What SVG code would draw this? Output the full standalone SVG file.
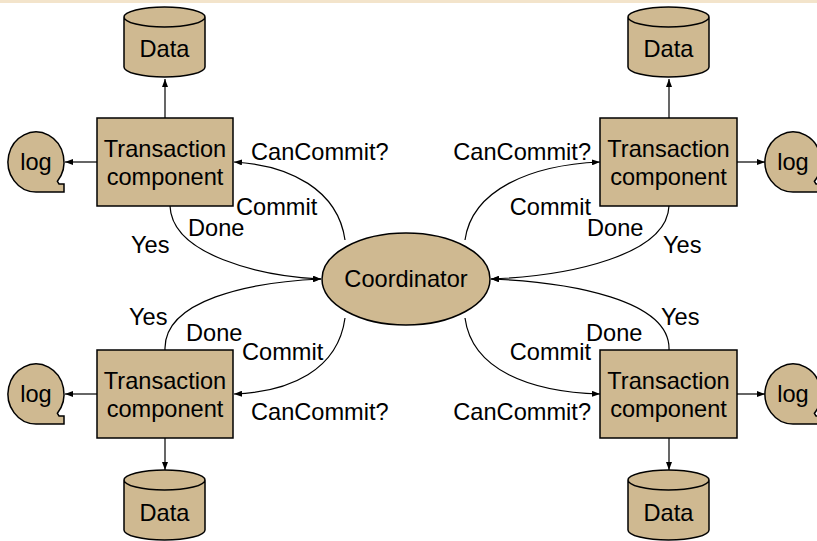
<svg xmlns="http://www.w3.org/2000/svg" xmlns:xlink="http://www.w3.org/1999/xlink" width="817" height="541" viewBox="0 0 817 541">
<style>
.shape{fill:#cfb991;stroke:#000;stroke-width:1.5}
.lbl{font-family:"Liberation Sans",Arial,sans-serif;font-size:23.6px;fill:#000}
.mid{text-anchor:middle}
.end{text-anchor:end}
.con{fill:none;stroke:#000;stroke-width:1.2}
</style>
<defs>
<marker id="ah" markerUnits="userSpaceOnUse" markerWidth="8" markerHeight="6" refX="8" refY="3" orient="auto">
<path d="M0,0 L8,3 L0,6 z" fill="#000"/>
</marker>
<path id="logShape" d="M57.4 181.3 A28 30 0 1 0 36 192 L64 192 L64 184 L59 184 Z"/>
<path id="cyl" d="M124 17 L124 67 A40.5 10 0 0 0 205 67 L205 17 A40.5 10 0 0 0 124 17 Z M124 17 A40.5 10 0 0 0 205 17"/>
</defs>
<rect x="0" y="0" width="817" height="3" fill="#f3e4cb"/>

<g id="connectors">
<line class="con" x1="165" y1="118" x2="165" y2="79" marker-end="url(#ah)"/>
<line class="con" x1="97" y1="162" x2="65" y2="162" marker-end="url(#ah)"/>
<line class="con" x1="669" y1="118" x2="669" y2="79" marker-end="url(#ah)"/>
<line class="con" x1="737" y1="162" x2="765" y2="162" marker-end="url(#ah)"/>
<line class="con" x1="165" y1="438" x2="165" y2="470" marker-end="url(#ah)"/>
<line class="con" x1="97" y1="394" x2="65" y2="394" marker-end="url(#ah)"/>
<line class="con" x1="669" y1="438" x2="669" y2="470" marker-end="url(#ah)"/>
<line class="con" x1="737" y1="394" x2="765" y2="394" marker-end="url(#ah)"/>
<path class="con" d="M345 240 C338 190 290 165 234 162" marker-end="url(#ah)"/>
<path class="con" d="M170 206 C172 255 260 276 321 279" marker-end="url(#ah)"/>
<path class="con" d="M465 240 C472 190 530 165 600 162" marker-end="url(#ah)"/>
<path class="con" d="M669 206 C667 255 570 276 491 279" marker-end="url(#ah)"/>
<path class="con" d="M165 350 C163 300 250 282 321 279" marker-end="url(#ah)"/>
<path class="con" d="M345 318 C338 370 290 392 234 394" marker-end="url(#ah)"/>
<path class="con" d="M669 350 C671 300 570 282 491 279" marker-end="url(#ah)"/>
<path class="con" d="M465 318 C472 370 530 392 600 394" marker-end="url(#ah)"/>
</g>

<g id="labels">
<text class="lbl" x="251" y="160">CanCommit?</text>
<text class="lbl" x="236" y="215">Commit</text>
<text class="lbl" x="188" y="236">Done</text>
<text class="lbl" x="131" y="253">Yes</text>
<text class="lbl end" x="591" y="160">CanCommit?</text>
<text class="lbl end" x="591" y="215">Commit</text>
<text class="lbl" x="587" y="236">Done</text>
<text class="lbl" x="663" y="253">Yes</text>
<text class="lbl" x="129" y="325">Yes</text>
<text class="lbl" x="186" y="341">Done</text>
<text class="lbl" x="242" y="360">Commit</text>
<text class="lbl" x="251" y="420">CanCommit?</text>
<text class="lbl" x="661" y="325">Yes</text>
<text class="lbl" x="586" y="341">Done</text>
<text class="lbl end" x="591" y="360">Commit</text>
<text class="lbl end" x="591" y="420">CanCommit?</text>
</g>

<g id="coordinator">
<ellipse class="shape" cx="406" cy="279" rx="84" ry="46"/>
<text class="lbl mid" x="406" y="287">Coordinator</text>
</g>

<g id="tc-tl">
<rect class="shape" x="97" y="118" width="136" height="88"/>
<text class="lbl mid" x="165" y="157">Transaction</text>
<text class="lbl mid" x="165" y="185">component</text>
</g>
<g id="tc-tr">
<rect class="shape" x="600" y="118" width="137" height="88"/>
<text class="lbl mid" x="668.5" y="157">Transaction</text>
<text class="lbl mid" x="668.5" y="185">component</text>
</g>
<g id="tc-bl">
<rect class="shape" x="97" y="350" width="136" height="88"/>
<text class="lbl mid" x="165" y="389">Transaction</text>
<text class="lbl mid" x="165" y="417">component</text>
</g>
<g id="tc-br">
<rect class="shape" x="600" y="350" width="137" height="88"/>
<text class="lbl mid" x="668.5" y="389">Transaction</text>
<text class="lbl mid" x="668.5" y="417">component</text>
</g>

<g id="data-tl">
<use href="#cyl" class="shape"/>
<text class="lbl mid" x="164.5" y="57">Data</text>
</g>
<g id="data-tr">
<use href="#cyl" class="shape" transform="translate(504,0)"/>
<text class="lbl mid" x="668.5" y="57">Data</text>
</g>
<g id="data-bl">
<use href="#cyl" class="shape" transform="translate(0,463)"/>
<text class="lbl mid" x="164.5" y="521">Data</text>
</g>
<g id="data-br">
<use href="#cyl" class="shape" transform="translate(504,463)"/>
<text class="lbl mid" x="668.5" y="521">Data</text>
</g>

<g id="log-tl">
<use href="#logShape" class="shape"/>
<text class="lbl mid" x="36" y="170">log</text>
</g>
<g id="log-tr">
<use href="#logShape" class="shape" transform="translate(757,0)"/>
<text class="lbl mid" x="793" y="170">log</text>
</g>
<g id="log-bl">
<use href="#logShape" class="shape" transform="translate(0,232)"/>
<text class="lbl mid" x="36" y="402">log</text>
</g>
<g id="log-br">
<use href="#logShape" class="shape" transform="translate(757,232)"/>
<text class="lbl mid" x="793" y="402">log</text>
</g>
</svg>
